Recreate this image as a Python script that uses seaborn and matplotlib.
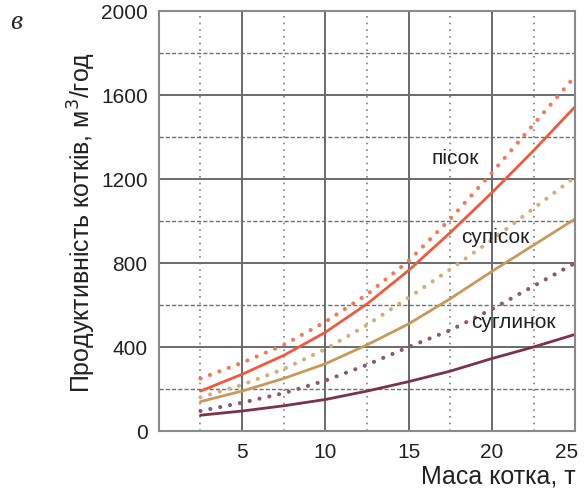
import numpy as np
import pandas as pd
import matplotlib
matplotlib.use("Agg")
import matplotlib.pyplot as plt
import matplotlib.transforms as mtransforms
import seaborn as sns

# ── дані ─────────────────────────────────────────────────────────────────
mass = [2.5, 5, 7.5, 10, 12.5, 15, 17.5, 20, 22.5, 25]

pisok_solid    = [190, 270, 360, 470, 605, 765, 945, 1135, 1335, 1545]
pisok_dot      = [250, 325, 410, 520, 650, 810, 1010, 1230, 1460, 1690]
supisok_solid  = [140, 190, 250, 320, 410, 510, 630, 760, 885, 1010]
supisok_dot    = [160, 220, 295, 390, 505, 635, 770, 910, 1060, 1210]
suglinok_solid = [75, 95, 120, 150, 190, 235, 285, 345, 400, 460]
suglinok_dot   = [95, 135, 180, 240, 315, 400, 480, 580, 690, 800]

soil_labels = ["пісок", "супісок", "суглинок"]

sns.set_style("white")
plt.rcParams['font.family'] = ['Liberation Sans', 'DejaVu Sans']

fig = plt.figure(figsize=(5.84, 4.89), dpi=100)
ax = fig.add_axes([0.272, 0.1166, 0.713, 0.859])

series = [
    (pisok_dot, "#f4795a", "dot"),
    (pisok_solid, "#ef5a3c", "solid"),
    (supisok_dot, "#d2b07e", "dot"),
    (supisok_solid, "#c79a5c", "solid"),
    (suglinok_dot, "#8c5a6e", "dot"),
    (suglinok_solid, "#7a3446", "solid"),
]

for vals, col, kind in series:
    df = pd.DataFrame({"x": mass, "y": vals})
    if kind == "solid":
        sns.lineplot(data=df, x="x", y="y", ax=ax, color=col, lw=2.0)
    else:
        line = sns.lineplot(data=df, x="x", y="y", ax=ax, color=col, lw=3.0).lines[-1]
        line.set_dashes((0.01, 2.4))
        line.set_dash_capstyle("round")

ax.set_xlim(0, 25)
ax.set_ylim(0, 2000)
ax.set_xticks([5, 10, 15, 20, 25])
ax.set_yticks([0, 400, 800, 1200, 1600, 2000])
ax.set_xticks(np.arange(2.5, 25, 5), minor=True)
ax.set_yticks(np.arange(200, 2000, 400), minor=True)

ax.grid(which="major", color="#6a6a6a", lw=1.4, ls="-")
ax.grid(which="minor", axis="x", color="#808080", lw=1.2, ls=(0, (1, 3)))
ax.grid(which="minor", axis="y", color="#707070", lw=1.0, ls=(0, (3, 1.5)))
ax.set_axisbelow(True)
for s in ax.spines.values():
    s.set_color("#8a8a8a")
    s.set_linewidth(1.5)

ax.tick_params(which="both", length=0, labelsize=15, colors="#222222", pad=8)
ax.set_xlabel("Маса котка, т", fontsize=18, color="#222222", loc="right", labelpad=2)
ax.set_ylabel("Продуктивність котків, м$^3$/год", fontsize=18, color="#222222", labelpad=2)

# остання мітка по x зсунута вліво, як на оригіналі
last = ax.get_xticklabels()[-1]
last.set_transform(last.get_transform() + mtransforms.ScaledTranslation(-9 / 100, 0, fig.dpi_scale_trans))

ax.text(17.8, 1300, soil_labels[0], fontsize=15, color="#222222", ha="center", va="center")
ax.text(20.2, 925, soil_labels[1], fontsize=15, color="#222222", ha="center", va="center")
ax.text(21.3, 520, soil_labels[2], fontsize=15, color="#222222", ha="center", va="center")

fig.text(0.018, 0.955, "в", fontsize=20, style="italic", family="Liberation Serif", va="center")

fig.savefig("out.png", dpi=100)
